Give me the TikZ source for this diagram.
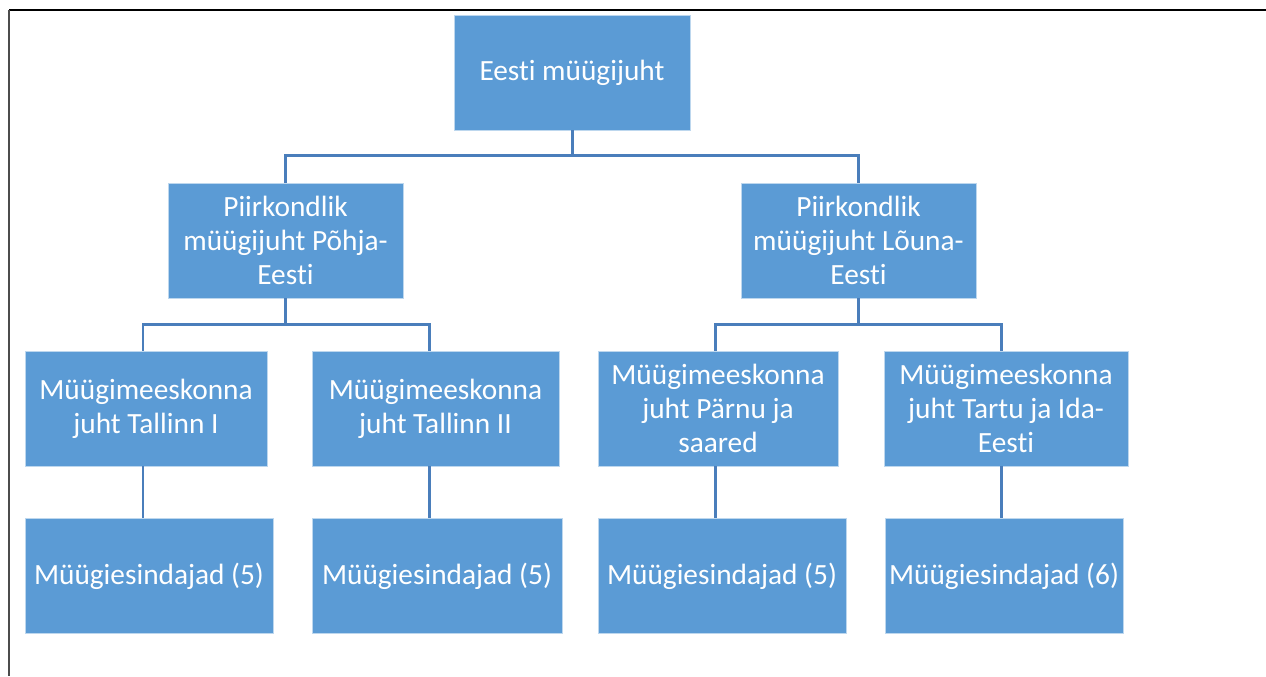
\documentclass[tikz,border=0pt]{standalone}
\usepackage{fontspec}
\setmainfont{Carlito}[Ligatures=NoCommon]
\usetikzlibrary{positioning}
\definecolor{boxblue}{HTML}{5B9BD5}
\definecolor{lineblue}{HTML}{4A7EBB}

\begin{document}
\begin{tikzpicture}[x=0.02cm,y=-0.02cm,
  box/.style={rectangle,fill=boxblue,draw=white!60!boxblue,line width=0.4pt,text=white,
    align=center,inner sep=0pt,minimum height=2.3cm,
    font=\fontsize{16.7}{19.2}\selectfont},
  conn/.style={draw=lineblue,line width=1.7pt}]
\useasboundingbox (0,0) rectangle (1266,676);
% frame
\draw[black,line width=1.3pt] (9,10) -- (1266,10);
\draw[black!70,line width=0.8pt] (9,10) -- (9,676);

% boxes
\node[box,minimum width=4.72cm](top) at (572,72.5) {Eesti müügijuht};
\node[box,minimum width=4.7cm](pohi) at (285.5,240.5) {Piirkondlik\\müügijuht Põhja-\\Eesti};
\node[box,minimum width=4.7cm](louna) at (858.5,240.5) {Piirkondlik\\müügijuht Lõuna-\\Eesti};
\node[box,minimum width=4.84cm](tln1) at (146,408.5) {Müügimeeskonna\\juht Tallinn I};
\node[box,minimum width=4.94cm](tln2) at (435.5,408.5) {Müügimeeskonna\\juht Tallinn II};
\node[box,minimum width=4.8cm](parnu) at (718,408.5) {Müügimeeskonna\\juht Pärnu ja\\saared};
\node[box,minimum width=4.88cm](tartu) at (1006,408.5) {Müügimeeskonna\\juht Tartu ja Ida-\\Eesti};
\node[box,minimum width=4.96cm](mi1) at (149,576) {Müügiesindajad (5)};
\node[box,minimum width=5cm](mi2) at (437,576) {Müügiesindajad (5)};
\node[box,minimum width=4.96cm](mi3) at (722,576) {Müügiesindajad (5)};
\node[box,minimum width=4.76cm](mi4) at (1004,576) {Müügiesindajad (6)};

% connectors
\draw[conn] (top.south) -- ++(0,25) -| (pohi.north);
\draw[conn] (top.south) -- ++(0,25) -| (louna.north);
\draw[conn] (pohi.south) -- ++(0,26) -| ([xshift=-0.06cm]tln1.north);
\draw[conn] (pohi.south) -- ++(0,26) -| ([xshift=-0.13cm]tln2.north);
\draw[conn] (louna.south) -- ++(0,26) -| ([xshift=-0.06cm]parnu.north);
\draw[conn] (louna.south) -- ++(0,26) -| ([xshift=-0.1cm]tartu.north);
\draw[conn] ([xshift=-0.06cm]tln1.south) -- ([xshift=-0.06cm]tln1.south |- mi1.north);
\draw[conn] ([xshift=-0.13cm]tln2.south) -- ([xshift=-0.13cm]tln2.south |- mi2.north);
\draw[conn] ([xshift=-0.06cm]parnu.south) -- ([xshift=-0.06cm]parnu.south |- mi3.north);
\draw[conn] ([xshift=-0.1cm]tartu.south) -- ([xshift=-0.1cm]tartu.south |- mi4.north);
\end{tikzpicture}
\end{document}
